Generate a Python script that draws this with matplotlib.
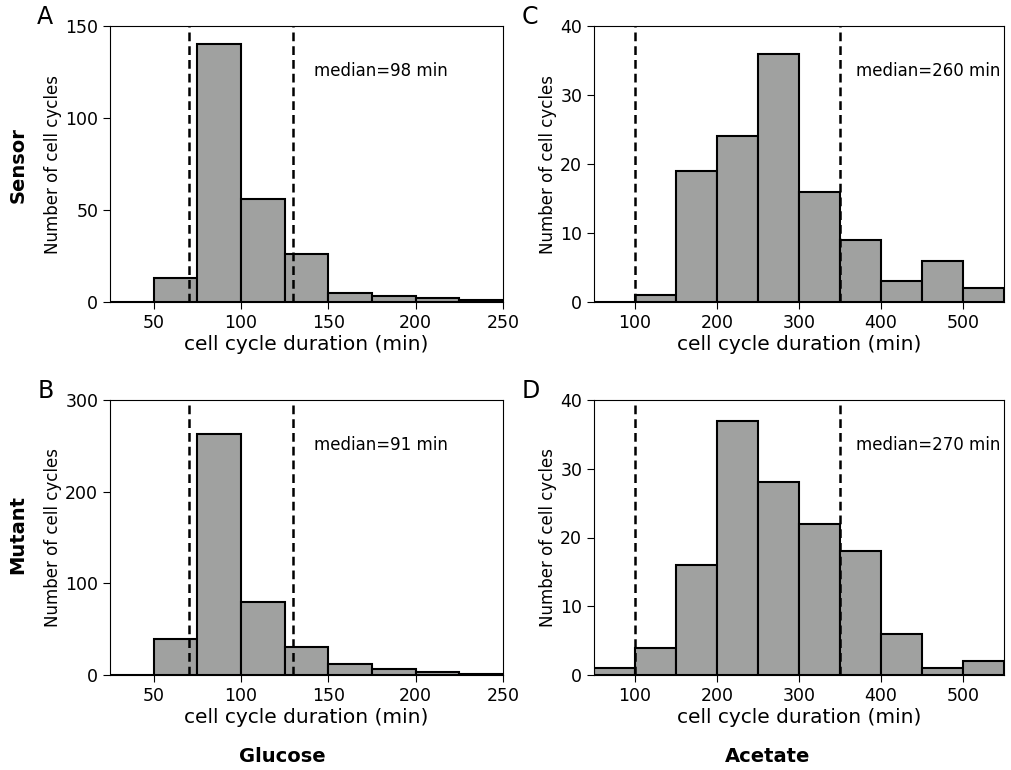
import matplotlib
matplotlib.use('Agg')
import matplotlib.pyplot as plt
import numpy as np

# glucose histograms (bin width 25 min, 25..250)
glc_edges = np.arange(25, 251, 25)
sensor_glc = [0, 13, 140, 56, 26, 5, 3, 2, 1]
mutant_glc = [0, 39, 263, 80, 31, 12, 7, 3, 1]

# acetate histograms (bin width 50 min, 50..550)
ace_edges = np.arange(50, 551, 50)
sensor_ace = [0, 1, 19, 24, 36, 16, 9, 3, 6, 2]
mutant_ace = [1, 4, 16, 37, 28, 22, 18, 6, 1, 2]

glc_lines = [70, 130]
ace_lines = [100, 350]

fig = plt.figure(figsize=(10.11, 7.7), dpi=100)

left1, right1 = 110 / 1011, 503 / 1011
left2, right2 = 594 / 1011, 1004 / 1011
top_row = (1 - 302 / 770, 1 - 26 / 770)
bot_row = (1 - 675 / 770, 1 - 400 / 770)

panels = [
    ('A', (left1, right1), top_row, glc_edges, sensor_glc, glc_lines, (25, 250), (0, 150),
     [50, 100, 150, 200, 250], [0, 50, 100, 150], 'median=98 min', 0.52),
    ('B', (left1, right1), bot_row, glc_edges, mutant_glc, glc_lines, (25, 250), (0, 300),
     [50, 100, 150, 200, 250], [0, 100, 200, 300], 'median=91 min', 0.52),
    ('C', (left2, right2), top_row, ace_edges, sensor_ace, ace_lines, (50, 550), (0, 40),
     [100, 200, 300, 400, 500], [0, 10, 20, 30, 40], 'median=260 min', 0.64),
    ('D', (left2, right2), bot_row, ace_edges, mutant_ace, ace_lines, (50, 550), (0, 40),
     [100, 200, 300, 400, 500], [0, 10, 20, 30, 40], 'median=270 min', 0.64),
]

for letter, (l, r), (b, t), edges, counts, vlines, xlim, ylim, xt, yt, med, mx in panels:
    ax = fig.add_axes([l, b, r - l, t - b])
    ax.bar(edges[:-1], counts, width=np.diff(edges), align='edge',
           color='#a0a1a0', edgecolor='black', linewidth=1.5)
    for v in vlines:
        ax.axvline(v, color='black', linestyle=(0, (3.5, 2)), linewidth=1.8)
    ax.set_xlim(*xlim)
    ax.set_ylim(*ylim)
    ax.set_xticks(xt)
    ax.set_yticks(yt)
    ax.tick_params(labelsize=12.5, length=5)
    ax.set_xlabel('cell cycle duration (min)', fontsize=14.5, labelpad=2)
    ax.set_ylabel('Number of cell cycles', fontsize=12, labelpad=2)
    ax.text(mx, 0.82, med, transform=ax.transAxes, fontsize=12)
    fig.text(l - 0.072, t + 0.012, letter, fontsize=17, va='center', ha='left')

fig.text(0.018, 1 - 165 / 770, 'Sensor', rotation=90, fontsize=14, fontweight='bold',
         ha='center', va='center')
fig.text(0.018, 1 - 535 / 770, 'Mutant', rotation=90, fontsize=14, fontweight='bold',
         ha='center', va='center')
fig.text(282 / 1011, 1 - 757 / 770, 'Glucose', fontsize=14, fontweight='bold',
         ha='center', va='center')
fig.text(768 / 1011, 1 - 757 / 770, 'Acetate', fontsize=14, fontweight='bold',
         ha='center', va='center')

fig.savefig('out.png', dpi=100)
